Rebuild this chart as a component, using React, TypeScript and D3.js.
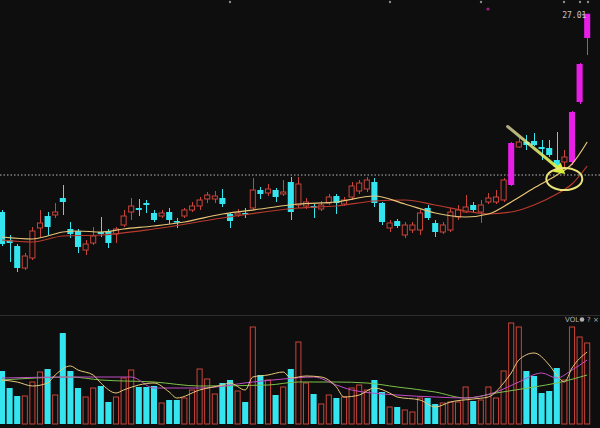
import React from "react";
import * as d3 from "d3";

const W = 600;
const H = 428;

// Daily candles (price)
const openP = [19.08, 17.96, 17.72, 16.84, 17.24, 18.44, 18.92, 18.96, 19.64, 18.40, 18.32, 17.56, 17.84, 18.28, 18.32, 18.20, 18.56, 19.08, 19.24, 19.44, 19.04, 18.92, 19.08, 18.72, 18.92, 19.16, 19.32, 19.60, 19.60, 19.64, 19.00, 18.96, 19.04, 19.24, 19.96, 19.84, 19.96, 19.80, 20.28, 19.36, 19.32, 19.32, 19.20, 19.44, 19.72, 19.40, 19.68, 19.92, 20.00, 20.28, 19.44, 18.44, 18.72, 18.16, 18.36, 18.36, 19.24, 18.64, 18.28, 18.36, 18.88, 19.08, 19.36, 19.08, 19.48, 19.48, 19.56, 20.16, 21.68, 21.88, 21.92, 21.68, 21.64, 21.16, 21.08, 21.08, 23.48, 26.04];
const closeP = [17.80, 17.84, 16.84, 17.32, 18.32, 18.64, 18.48, 19.08, 19.48, 18.20, 17.68, 17.80, 18.12, 18.20, 17.84, 18.40, 18.92, 19.32, 19.16, 19.36, 18.76, 19.04, 18.76, 18.68, 19.16, 19.32, 19.56, 19.76, 19.72, 19.40, 18.72, 19.04, 19.00, 19.96, 19.80, 20.00, 19.68, 19.88, 19.08, 20.20, 19.48, 19.24, 19.36, 19.68, 19.44, 19.56, 20.12, 20.24, 20.36, 19.44, 18.68, 18.64, 18.52, 18.56, 18.56, 19.04, 18.84, 18.28, 18.56, 19.08, 19.16, 19.28, 19.16, 19.36, 19.64, 19.68, 20.36, 21.84, 21.88, 21.76, 21.76, 21.60, 21.36, 20.88, 21.28, 23.08, 25.00, 27.01];
const highP = [19.16, 18.16, 17.80, 17.44, 18.48, 19.16, 19.08, 19.44, 20.16, 18.68, 18.40, 17.96, 18.48, 18.88, 18.40, 18.48, 19.16, 19.64, 19.60, 19.56, 19.16, 19.16, 19.24, 18.84, 19.24, 19.48, 19.68, 19.88, 19.92, 20.00, 19.04, 19.20, 19.24, 20.44, 20.08, 20.20, 20.04, 20.36, 20.48, 20.48, 19.64, 19.40, 19.52, 19.80, 19.80, 19.68, 20.28, 20.36, 20.48, 20.44, 19.48, 18.76, 18.80, 18.68, 18.68, 19.16, 19.36, 18.76, 18.68, 19.24, 19.36, 19.76, 19.48, 19.56, 19.84, 19.96, 20.44, 21.88, 22.04, 22.16, 22.24, 21.96, 21.96, 22.28, 21.56, 23.12, 25.04, 27.01];
const lowP = [17.72, 17.08, 16.68, 16.76, 17.16, 18.08, 18.16, 18.84, 18.96, 18.04, 17.44, 17.36, 17.76, 18.08, 17.64, 17.84, 18.48, 18.76, 18.92, 19.04, 18.68, 18.84, 18.60, 18.44, 18.84, 19.08, 19.16, 19.44, 19.44, 19.28, 18.44, 18.88, 18.84, 19.16, 19.60, 19.72, 19.48, 19.72, 18.76, 19.24, 19.20, 18.84, 19.12, 19.36, 19.00, 19.32, 19.56, 19.80, 19.88, 19.28, 18.56, 18.28, 18.44, 18.04, 18.24, 18.16, 18.76, 18.08, 18.20, 18.28, 18.76, 19.04, 19.04, 18.64, 19.40, 19.40, 19.48, 20.12, 21.64, 21.56, 21.72, 21.16, 21.28, 20.84, 20.84, 20.96, 23.40, 25.36];
const volume = [53, 36, 28, 28, 42, 52, 55, 29, 91, 53, 36, 27, 36, 38, 22, 27, 46, 54, 37, 37, 38, 21, 24, 24, 26, 34, 55, 45, 30, 41, 44, 33, 22, 97, 49, 44, 29, 37, 55, 82, 41, 30, 20, 29, 26, 27, 36, 39, 34, 44, 32, 17, 17, 14, 12, 26, 26, 20, 21, 22, 22, 37, 23, 24, 37, 26, 53, 101, 97, 53, 48, 31, 33, 56, 44, 97, 87, 81];
const magentaDays = [67, 75, 76, 77];

// Moving averages: [day index, value]
const priceMaA: [number, number][] = [[0, 18.08], [4, 18.0], [6, 18.12], [8, 18.28], [10, 18.32], [13, 18.28], [16, 18.4], [20, 18.52], [24, 18.68], [29, 19.0], [34, 19.2], [39, 19.4], [44, 19.48], [49, 19.72], [53, 19.4], [57, 19.04], [61, 18.88], [64, 19.0], [67, 19.48], [70, 20.04], [73, 20.56], [75, 21.0], [77, 21.88]];
const priceMaB: [number, number][] = [[0, 17.96], [4, 17.88], [8, 18.12], [13, 18.16], [20, 18.4], [29, 18.84], [39, 19.24], [44, 19.32], [49, 19.52], [53, 19.56], [57, 19.36], [61, 19.12], [64, 19.0], [67, 19.08], [70, 19.36], [73, 19.8], [75, 20.2], [77, 20.92]];
const volMa5: [number, number][] = [[0, 44], [2, 42], [4, 38], [6, 41], [7, 49], [9, 58], [10, 54], [12, 49], [13, 41], [15, 31], [16, 34], [18, 39], [20, 41], [22, 32], [23, 26], [26, 34], [29, 39], [30, 41], [32, 34], [33, 47], [35, 49], [37, 52], [38, 46], [40, 48], [42, 47], [44, 37], [45, 27], [47, 29], [49, 36], [51, 31], [52, 27], [55, 24], [57, 17], [59, 22], [62, 25], [64, 27], [66, 41], [67, 51], [68, 64], [70, 71], [72, 59], [73, 49], [74, 42], [75, 56], [77, 72]];
const volMa10: [number, number][] = [[0, 46], [9, 47], [17, 47], [20, 36], [26, 36], [33, 42], [37, 45], [41, 47], [44, 39], [46, 34], [52, 29], [57, 27], [61, 26], [65, 32], [68, 42], [71, 51], [73, 46], [75, 54], [77, 64]];
const volMa20: [number, number][] = [[0, 44], [9, 47], [13, 44], [20, 42], [26, 38], [35, 39], [39, 42], [44, 42], [48, 41], [52, 37], [57, 32], [61, 26], [65, 31], [70, 37], [73, 41], [77, 49]];

const refPrice = 20.56;
const topLabel = "27.01";
const volLabel = "VOL";

const BG = "#0e0e0e";
const CYAN = "#34e4ee";
const RED = "#c9443b";
const MAGENTA = "#e61ee6";

export default function App() {
  const n = openP.length;
  const idx = d3.range(n);
  const x = d3.scaleBand<number>().domain(idx).range([-1.04, 590.24]).paddingInner(0.2).paddingOuter(0);
  const bw = x.bandwidth();
  const xc = (i: number) => (x(i) as number) + bw / 2;
  const y = d3.scaleLinear().domain([16, 28]).range([289, -11]);
  const yv = d3.scaleLinear().domain([0, 100]).range([424, 324]);

  const priceLine = d3.line<[number, number]>().x((d) => xc(d[0])).y((d) => y(d[1])).curve(d3.curveMonotoneX);
  const volLine = d3.line<[number, number]>().x((d) => xc(d[0])).y((d) => yv(d[1])).curve(d3.curveMonotoneX);

  const colorOf = (i: number) => {
    if (magentaDays.includes(i)) return MAGENTA;
    return closeP[i] >= openP[i] ? RED : CYAN;
  };

  const last = n - 1;
  const yRef = y(refPrice);

  // annotation: arrow toward MA crossing, circled
  const cx = xc(73) + 7.5;
  const cy = y(20.48) - 0;
  const ax0 = xc(66) + 4;
  const ay0 = y(22.5);
  const ax1 = cx + 1;
  const ay1 = cy - 3;
  const ang = Math.atan2(ay1 - ay0, ax1 - ax0);
  const headLen = 11;
  const headW = 6;
  const bx = ax1 - headLen * Math.cos(ang);
  const by = ay1 - headLen * Math.sin(ang);
  const px = -Math.sin(ang) * headW;
  const py = Math.cos(ang) * headW;

  return (
    <svg
      width={W}
      height={H}
      style={{ position: "fixed", left: 0, top: 0, background: BG, display: "block" }}
      fontFamily="DejaVu Sans Mono, monospace"
    >
      <defs>
        <linearGradient id="arrowGrad" x1={ax0} y1={ay0} x2={ax1} y2={ay1} gradientUnits="userSpaceOnUse">
          <stop offset="0" stopColor="#f4f0b0" stopOpacity={0.7} />
          <stop offset="1" stopColor="#d8f03a" />
        </linearGradient>
      </defs>
      <rect width={W} height={H} fill={BG} />

      {/* top markers */}
      {[230, 390, 481, 564, 580, 588].map((mx, k) => (
        <circle key={k} cx={mx} cy={2} r={1.2} fill="#8a8a8a" />
      ))}
      <circle cx={488} cy={9} r={1.6} fill="#a0208a" />

      {/* reference dotted line */}
      <line x1={0} x2={W} y1={yRef} y2={yRef} stroke="#b8b8b8" strokeWidth={1} strokeDasharray="1.5,2" />

      {/* candles */}
      {idx.map((i) => {
        const c = colorOf(i);
        const top = y(Math.max(openP[i], closeP[i]));
        const bot = y(Math.min(openP[i], closeP[i]));
        const hollow = c === RED;
        const xm = Math.round(xc(i)) + 0.5;
        const x0 = x(i) as number;
        return (
          <g key={i}>
            <line x1={xm} x2={xm} y1={y(highP[i])} y2={top} stroke={c} strokeWidth={1} />
            <line x1={xm} x2={xm} y1={bot} y2={y(lowP[i])} stroke={c} strokeWidth={1} />
            {hollow ? (
              <rect x={x0 + 0.5} y={top} width={bw - 1} height={Math.max(1, bot - top)} fill={BG} stroke={c} strokeWidth={1} />
            ) : (
              <rect x={x0} y={top} width={bw} height={Math.max(1.5, bot - top)} fill={c} />
            )}
          </g>
        );
      })}

      {/* price moving averages */}
      <path d={priceLine(priceMaB) ?? ""} fill="none" stroke="#b83a2e" strokeWidth={1.2} />
      <path d={priceLine(priceMaA) ?? ""} fill="none" stroke="#e9c577" strokeWidth={1.2} />

      {/* top label */}
      <text x={xc(last) - 25} y={y(highP[last]) + 4} fontSize={8} fill="#c8c8c8">
        {topLabel}
      </text>
      <line x1={xc(last) - 5} x2={xc(last) - 3} y1={y(highP[last]) + 1} y2={y(highP[last]) + 1} stroke="#c8c8c8" />

      {/* annotation */}
      <line x1={ax0} y1={ay0} x2={bx} y2={by} stroke="url(#arrowGrad)" strokeWidth={3} strokeLinecap="round" />
      <polygon points={`${ax1},${ay1} ${bx + px},${by + py} ${bx - px},${by - py}`} fill="#d8f03a" />
      <ellipse cx={cx} cy={cy + 2} rx={18} ry={11} fill="none" stroke="#ece47a" strokeWidth={2} />

      {/* volume panel */}
      <line x1={0} x2={W} y1={315.5} y2={315.5} stroke="#2e2e2e" strokeWidth={1} />
      {magentaDays.filter((d) => d === 67 || d === 76).map((d) => (
        <path key={d} d={`M${xc(d - 0.3)},${304} l2,4 l-4,0 z`} fill="#a0208a" />
      ))}
      <text x={565} y={322} fontSize={7} fill="#b0b0b0" fontFamily="DejaVu Sans, sans-serif">
        {volLabel}
      </text>
      <circle cx={582} cy={319.5} r={2.3} fill="#b0b0b0" />
      <text x={587} y={322} fontSize={7} fill="#b0b0b0" fontFamily="DejaVu Sans, sans-serif">?</text>
      <text x={593} y={322} fontSize={7} fill="#b0b0b0" fontFamily="DejaVu Sans, sans-serif">×</text>

      {idx.map((i) => {
        const c = colorOf(i) === CYAN ? CYAN : RED;
        const x0 = x(i) as number;
        const top = yv(volume[i]);
        const base = yv(0);
        return c === CYAN ? (
          <rect key={i} x={x0} y={top} width={bw} height={base - top} fill={CYAN} />
        ) : (
          <rect key={i} x={x0 + 0.5} y={top} width={bw - 1} height={base - top} fill="none" stroke={RED} strokeWidth={1} />
        );
      })}

      <path d={volLine(volMa20) ?? ""} fill="none" stroke="#7cc04a" strokeWidth={1} />
      <path d={volLine(volMa10) ?? ""} fill="none" stroke="#c04cc4" strokeWidth={1} />
      <path d={volLine(volMa5) ?? ""} fill="none" stroke="#e8c878" strokeWidth={1} />
    </svg>
  );
}
